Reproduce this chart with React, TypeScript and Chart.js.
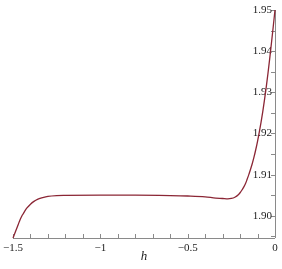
import React, { useEffect, useRef } from "react";
import { Chart, registerables } from "chart.js";

Chart.register(...registerables);

const xValues = [
  -1.5, -1.49, -1.48, -1.47, -1.46, -1.45, -1.44, -1.43, -1.42, -1.4, -1.38,
  -1.36, -1.33, -1.3, -1.25, -1.2, -1.0, -0.8, -0.6, -0.5, -0.4, -0.34, -0.3,
  -0.27, -0.25, -0.23, -0.21, -0.2, -0.19, -0.18, -0.17, -0.16, -0.15, -0.14,
  -0.13, -0.12, -0.11, -0.1, -0.09, -0.08, -0.07, -0.06, -0.05, -0.04, -0.03,
  -0.02, -0.01, 0,
];
const yValues = [
  1.8946, 1.8957, 1.8968, 1.8979, 1.899, 1.8999, 1.9006, 1.9013, 1.9019, 1.9028,
  1.9035, 1.904, 1.9044, 1.9047, 1.9049, 1.90495, 1.905, 1.905, 1.9049, 1.9048,
  1.9046, 1.9043, 1.9042, 1.9041, 1.9042, 1.9045, 1.9051, 1.9056, 1.9062, 1.9069,
  1.9077, 1.9088, 1.91, 1.9113, 1.9127, 1.9143, 1.9161, 1.9181, 1.9203, 1.9227,
  1.9253, 1.9282, 1.9313, 1.9347, 1.9383, 1.9421, 1.946, 1.95,
];

const xMinorTicks = [
  -1.5, -1.4, -1.3, -1.2, -1.1, -1.0, -0.9, -0.8, -0.7, -0.6, -0.5, -0.4, -0.3,
  -0.2, -0.1, 0,
];
const xLabelValues = [-1.5, -1, -0.5, 0];
const xTickLabels = ["\u22121.5", "\u22121", "\u22120.5", "0"];

const yMinorTicks = [1.895, 1.9, 1.905, 1.91, 1.915, 1.92, 1.925, 1.93, 1.935, 1.94, 1.945, 1.95];
const yLabelValues = [1.9, 1.91, 1.92, 1.93, 1.94, 1.95];
const yTickLabels = ["1.90", "1.91", "1.92", "1.93", "1.94", "1.95"];

const xTitle = "h";

const axisPlugin = {
  id: "mapleAxes",
  beforeDatasetsDraw(chart: any) {
    const { ctx, chartArea } = chart;
    const xs = chart.scales.x;
    const ys = chart.scales.y;
    const axisY = ys.getPixelForValue(ys.min);
    const axisX = xs.getPixelForValue(0);
    ctx.save();
    ctx.strokeStyle = "#8a8a8a";
    ctx.lineWidth = 1;
    ctx.beginPath();
    ctx.moveTo(chartArea.left, Math.round(axisY) + 0.5);
    ctx.lineTo(chartArea.right, Math.round(axisY) + 0.5);
    ctx.moveTo(Math.round(axisX) + 0.5, chartArea.top);
    ctx.lineTo(Math.round(axisX) + 0.5, chartArea.bottom);
    xMinorTicks.forEach((v) => {
      const px = Math.round(xs.getPixelForValue(v)) + 0.5;
      ctx.moveTo(px, axisY);
      ctx.lineTo(px, axisY - 4);
    });
    yMinorTicks.forEach((v) => {
      const py = Math.round(ys.getPixelForValue(v)) + 0.5;
      ctx.moveTo(axisX, py);
      ctx.lineTo(axisX - 4, py);
    });
    ctx.stroke();

    ctx.fillStyle = "#222";
    ctx.font = "11px 'Liberation Serif', serif";
    ctx.textBaseline = "middle";
    ctx.textAlign = "center";
    xLabelValues.forEach((v, i) => {
      ctx.fillText(xTickLabels[i], xs.getPixelForValue(v), axisY + 10);
    });
    ctx.textAlign = "right";
    yLabelValues.forEach((v, i) => {
      ctx.fillText(yTickLabels[i], axisX - 3, ys.getPixelForValue(v));
    });
    ctx.font = "italic 13px 'Liberation Serif', serif";
    ctx.textAlign = "center";
    ctx.fillText(xTitle, (chartArea.left + chartArea.right) / 2, axisY + 19);
    ctx.restore();
  },
};

export default function App() {
  const ref = useRef<HTMLCanvasElement>(null);
  useEffect(() => {
    if (!ref.current) return;
    const points = xValues.map((x, i) => ({ x, y: yValues[i] }));
    const chart = new Chart(ref.current, {
      type: "line",
      data: {
        datasets: [
          {
            data: points,
            borderColor: "#8b2635",
            borderWidth: 1.3,
            pointRadius: 0,
            cubicInterpolationMode: "monotone",
            fill: false,
            clip: false as any,
          },
        ],
      },
      options: {
        animation: false,
        responsive: true,
        maintainAspectRatio: false,
        layout: { padding: { left: 13, right: 7, top: 10, bottom: 31 } },
        plugins: { legend: { display: false }, tooltip: { enabled: false } },
        scales: {
          x: { type: "linear", min: -1.5, max: 0, display: false },
          y: { type: "linear", min: 1.8946, max: 1.95, display: false },
        },
      },
      plugins: [axisPlugin],
    });
    return () => chart.destroy();
  }, []);
  return (
    <div style={{ position: "absolute", left: 0, top: 0, width: 282, height: 269, background: "#fff" }}>
      <canvas ref={ref} />
    </div>
  );
}
